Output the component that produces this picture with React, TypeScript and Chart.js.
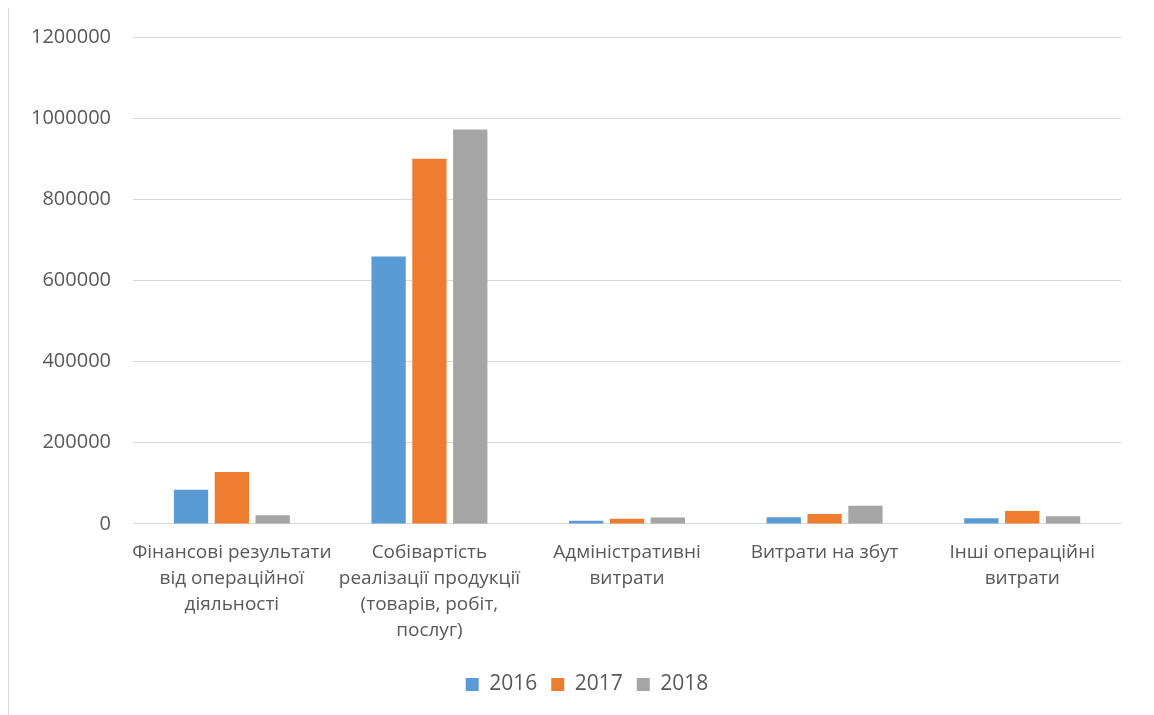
import React, { useEffect, useRef } from "react";
import { Chart, registerables } from "chart.js";

Chart.register(...registerables);

const categories: string[][] = [
  ["Фінансові результати", "від операційної", "діяльності"],
  ["Собівартість", "реалізації продукції", "(товарів, робіт,", "послуг)"],
  ["Адміністративні", "витрати"],
  ["Витрати на збут"],
  ["Інші операційні", "витрати"],
];

const seriesNames = ["2016", "2017", "2018"];
const values2016 = [84000, 659000, 7500, 16500, 14000];
const values2017 = [128000, 900000, 12500, 24500, 31500];
const values2018 = [21500, 972000, 15500, 44500, 19000];
const colors = ["#5B9BD5", "#ED7D31", "#A5A5A5"];
const yMax = 1200000;
const yStep = 200000;

const legendShift = {
  id: "legendShift",
  afterLayout(chart: any) {
    const lg = chart.legend;
    if (lg) {
      lg.left += 22;
      lg.right += 22;
    }
  },
};

export default function App() {
  const ref = useRef<HTMLCanvasElement | null>(null);
  useEffect(() => {
    if (!ref.current) return;
    const font = { family: "'Open Sans', 'Liberation Sans', sans-serif", size: 19 };
    const chart = new Chart(ref.current, {
      type: "bar",
      data: {
        labels: categories,
        datasets: [values2016, values2017, values2018].map((d, i) => ({
          label: seriesNames[i],
          data: d,
          backgroundColor: colors[i],
          barPercentage: 0.84,
          categoryPercentage: 0.62,
        })),
      },
      plugins: [legendShift],
      options: {
        animation: false,
        responsive: false,
        maintainAspectRatio: false,
        layout: { padding: { left: 0, right: 30, top: 0, bottom: 21 } },
        plugins: {
          tooltip: { enabled: false },
          legend: {
            position: "bottom",
            labels: {
              boxWidth: 13,
              boxHeight: 13,
              color: "#595959",
              font: { ...font, size: 21 },
              padding: 14,
            },
          },
        },
        scales: {
          x: {
            grid: { display: false, drawTicks: false },
            border: { color: "#d9d9d9" },
            ticks: {
              color: "#595959",
              font: { ...font, lineHeight: 1.37 },
              maxRotation: 0,
              autoSkip: false,
              padding: 16,
            },
          },
          y: {
            min: 0,
            max: yMax,
            grid: { color: "#d9d9d9", drawTicks: false },
            border: { display: false },
            ticks: {
              stepSize: yStep,
              color: "#595959",
              font: { ...font, size: 20, lineHeight: 0.7 },
              padding: 22,
              callback: (v: any) => String(v),
            },
          },
        },
      },
    });
    return () => chart.destroy();
  }, []);
  return (
    <div
      style={{
        width: 1144,
        height: 720,
        marginTop: -1,
        border: "1px solid #d9d9d9",
        boxSizing: "border-box",
        background: "#fff",
      }}
    >
      <canvas ref={ref} width={1142} height={718} style={{ display: "block" }} />
    </div>
  );
}
